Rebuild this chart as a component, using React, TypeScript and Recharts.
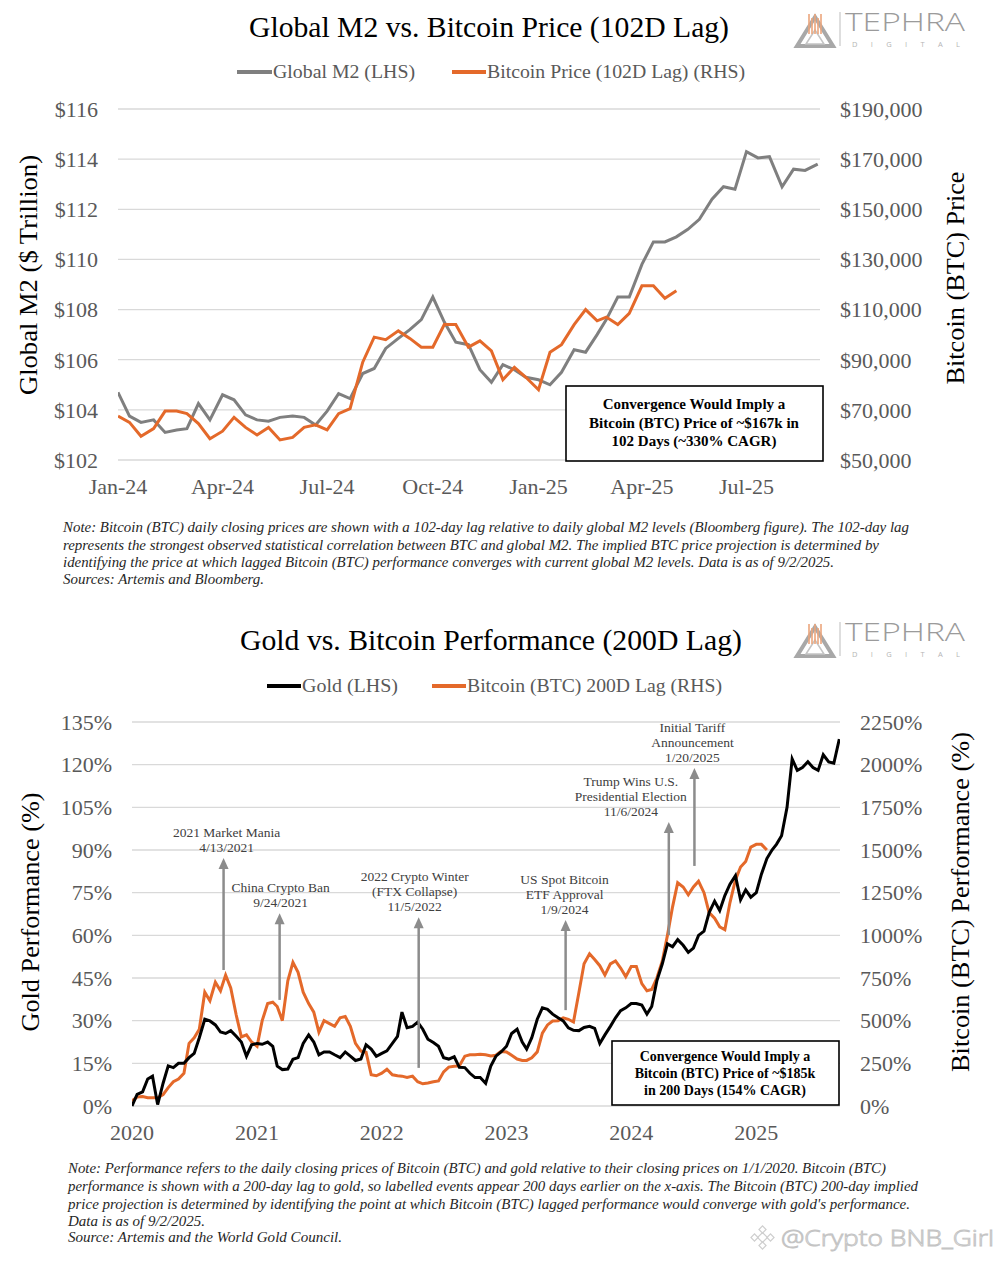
import React from 'react'
import { LineChart, Line, XAxis, YAxis, CartesianGrid, ReferenceLine } from 'recharts'

// ---- panel 1: Global M2 vs Bitcoin (102D lag), sampled on the 1st/11th/21st of each month from Jan 2024
const m2Values = [
  104.7, 103.75, 103.5, 103.6, 103.1, 103.2, 103.25, 104.25, 103.6, 104.6,
  104.4, 103.8, 103.6, 103.55, 103.7, 103.75, 103.7, 103.4, 103.95, 104.65,
  104.45, 105.45, 105.65, 106.45, 106.85, 107.2, 107.6, 108.5, 107.5, 106.7,
  106.6, 105.6, 105.1, 105.8, 105.6, 105.3, 105.2, 105.0, 105.5, 106.4,
  106.3, 107.0, 107.6, 108.5, 108.5, 109.8, 110.7, 110.7, 110.9, 111.2,
  111.6, 112.4, 112.9, 112.8, 114.3, 114.05, 114.1, 112.9, 113.6, 113.55,
  113.8,
]
const btcLagValues = [
  67500, 65000, 59500, 62500, 69500, 69500, 68500, 64500, 58500, 61500,
  67000, 63000, 60000, 63000, 58000, 59000, 63000, 64000, 62000, 68500,
  70500, 89000, 99000, 98000, 101500, 98500, 95000, 95000, 104000, 104000,
  95000, 97500, 93500, 82000, 87000, 83000, 78000, 93000, 96000, 104000,
  110000, 105500, 107000, 104000, 108500, 119500, 119500, 114500, 117500,
]
const m2Ticks = ['2024-01-01', '2024-04-01', '2024-07-01', '2024-10-01', '2025-01-01', '2025-04-01', '2025-07-01']
const m2LeftTicks = [102, 104, 106, 108, 110, 112, 114, 116]
const m2RightTicks = [50000, 70000, 90000, 110000, 130000, 150000, 170000, 190000]

// ---- panel 2: Gold vs Bitcoin (200D lag), 1st and 16th of each month from Jan 2020
const goldPerf = [
  0, 4.1, 5.0, 9.5, 10.5, 0.5, 8, 14.1, 13.5, 15,
  15.0, 17, 18.5, 24, 30.5, 29.9, 28.5, 26, 25.5, 26.5,
  24.5, 22.5, 17.5, 21.5, 22.0, 21.7, 22.5, 21, 14.0, 12.8,
  13.0, 16.4, 17.0, 22, 25.0, 22.5, 18.0, 19, 19.0, 18,
  17.0, 19, 17.5, 16, 16.5, 21.5, 20.0, 17.5, 18.5, 19.4,
  22.0, 24.5, 33.0, 27.5, 28.0, 29.5, 27.0, 23.5, 22.3, 21,
  17.0, 16.5, 17.3, 13.6, 13.5, 11.5, 10.0, 10, 8.0, 14,
  17.5, 19, 21.0, 25.5, 27.0, 22.5, 20.0, 24, 30.5, 34.5,
  34.0, 32.3, 31.0, 29.9, 27.5, 26.6, 26.5, 27.6, 28.0, 27.3,
  22.0, 25, 28.0, 31, 33.5, 34.5, 36.0, 36, 35.5, 32.3,
  35.0, 44, 50.0, 57, 56.0, 58.5, 56.5, 54, 55.5, 60,
  61.5, 68, 72.0, 68.7, 74.0, 78, 81.0, 72.5, 76.0, 73.4,
  75.0, 81.5, 87.0, 90, 92.0, 95, 105.0, 122, 118.0, 119,
  121.0, 119, 118.0, 123.5, 121.0, 120.5, 129.0,
]
const btcLagPerf = [
  30, 53, 55, 48, 48, 48, 67, 108, 142, 158,
  192, 367, 400, 450, 667, 617, 725, 675, 767, 692,
  533, 405, 417, 375, 350, 500, 600, 608, 583, 500,
  733, 842, 783, 667, 600, 550, 433, 500, 483, 467,
  517, 525, 467, 367, 322, 315, 183, 177, 192, 215,
  183, 177, 175, 167, 175, 142, 130, 135, 142, 147,
  200, 228, 233, 235, 292, 300, 300, 303, 300, 293,
  297, 320, 317, 297, 275, 267, 267, 283, 317, 427,
  475, 498, 500, 517, 508, 492, 667, 833, 892, 858,
  822, 767, 833, 850, 808, 758, 817, 817, 717, 675,
  683, 750, 850, 1000, 1167, 1308, 1283, 1238, 1283, 1317,
  1250, 1133, 1100, 1050, 1033, 1192, 1325, 1400, 1433, 1517,
  1533, 1533, 1500,
]
const goldTicks = ['2020-01-01', '2021-01-01', '2022-01-01', '2023-01-01', '2024-01-01', '2025-01-01']
const goldLeftTicks = [0, 15, 30, 45, 60, 75, 90, 105, 120, 135]
const btcRightTicks = [0, 250, 500, 750, 1000, 1250, 1500, 1750, 2000, 2250]

const eventLabels = [
  ['2021 Market Mania', '4/13/2021'],
  ['China Crypto Ban', '9/24/2021'],
  ['2022 Crypto Winter', '(FTX Collapse)', '11/5/2022'],
  ['US Spot Bitcoin', 'ETF Approval', '1/9/2024'],
  ['Trump Wins U.S.', 'Presidential Election', '11/6/2024'],
  ['Initial Tariff', 'Announcement', '1/20/2025'],
]
const eventDates = ['2021-04-13', '2021-09-24', '2022-11-05', '2024-01-09', '2024-11-06', '2025-01-20']
const LAG_DAYS = 200

// arrow extents (gold % units) and label nudges
const arrowSpan = [[47.8, 87.2], [37.3, 67.8], [13.4, 66.4], [33.7, 65.4], [60.1, 99.8], [84.4, 118.8]]
const labelDx = [3, 1, -4, -1, -38, -2]

const SERIF = '"Liberation Serif", "Times New Roman", serif'
const SANS = '"Open Sans", "DejaVu Sans", sans-serif'
const GREY = '#7f7f7f'
const ORANGE = '#e4692a'
const TICK = '#595959'
const ARROW = '#8c8c8c'
const DAY = 86400000
const MON = ['Jan', 'Feb', 'Mar', 'Apr', 'May', 'Jun', 'Jul', 'Aug', 'Sep', 'Oct', 'Nov', 'Dec']

const utc = (s: string) => Date.parse(s + 'T00:00:00Z')

const m2Data = m2Values.map((v, k) => ({
  t: Date.UTC(2024, Math.floor(k / 3), 1 + 10 * (k % 3)),
  m2: v,
  btc: btcLagValues[k],
}))
const goldData = goldPerf.map((v, j) => ({
  t: Date.UTC(2020, Math.floor(j / 2), j % 2 ? 16 : 1),
  gold: v,
  btc: btcLagPerf[j],
}))

const monthLabel = (t: number) => {
  const d = new Date(t)
  return `${MON[d.getUTCMonth()]}-${String(d.getUTCFullYear()).slice(2)}`
}

const tickStyle = { fill: TICK, fontSize: 22, fontFamily: SERIF }

const arrowShape = (lines: string[], dx: number) => (p: any) => {
  const { x1, y1, x2, y2 } = p
  return (
    <g>
      <line x1={x1} y1={y1} x2={x2} y2={y2 + 8} stroke={ARROW} strokeWidth={2.5} />
      <polygon points={`${x2},${y2} ${x2 - 5},${y2 + 11} ${x2 + 5},${y2 + 11}`} fill={ARROW} />
      {lines.map((s, i) => (
        <text
          key={i}
          x={x2 + dx}
          y={y2 - 6 - (lines.length - 1 - i) * 15}
          textAnchor="middle"
          fontSize={13.5}
          fontFamily={SERIF}
          fill="#404040"
        >
          {s}
        </text>
      ))}
    </g>
  )
}

function Logo({ y }: { y: number }) {
  return (
    <g transform={`translate(0, ${y})`}>
      <polygon points="797,46 815,17 833,46" fill="none" stroke="#a8a8a8" strokeWidth={4} strokeLinejoin="miter" />
      <polygon points="806,44 815,30 824,44" fill="#fff" stroke="#c4c4c4" strokeWidth={1.5} />
      {[809, 812, 815, 818, 821].map((x, i) => (
        <line key={x} x1={x} y1={14 + (i % 2) * 4} x2={x} y2={34} stroke="#eba57c" strokeWidth={1.6} />
      ))}
      <line x1={840} y1={12} x2={840} y2={46} stroke="#bdbdbd" strokeWidth={1} />
      <text x={845} y={31} fontSize={25} fontFamily={SANS} fontWeight={300} fill="#9b9b9b" textLength={120} lengthAdjust="spacingAndGlyphs">
        TEPHRA
      </text>
      <text x={852} y={47} fontSize={7.5} fontFamily={SANS} fill="#b5b5b5" textLength={108} lengthAdjust="spacing">
        DIGITAL
      </text>
    </g>
  )
}

function Note({ x, y, lines, widths }: { x: number; y: number[]; lines: string[]; widths: number[] }) {
  return (
    <>
      {lines.map((s, i) => (
        <text
          key={i}
          x={x}
          y={y[i]}
          fontSize={14}
          fontStyle="italic"
          fontFamily={SERIF}
          fill="#262626"
          textLength={widths[i]}
          lengthAdjust="spacingAndGlyphs"
        >
          {s}
        </text>
      ))}
    </>
  )
}

function Overlay() {
  return (
    <svg
      width={1001}
      height={1263}
      style={{ position: 'absolute', left: 0, top: 0, pointerEvents: 'none' }}
    >
      {/* panel 1 header */}
      <text x={249} y={37} fontSize={29} fontFamily={SERIF} fill="#000" textLength={480} lengthAdjust="spacingAndGlyphs">
        Global M2 vs. Bitcoin Price (102D Lag)
      </text>
      <Logo y={0} />
      <line x1={237} y1={72} x2={272} y2={72} stroke={GREY} strokeWidth={4} />
      <text x={273} y={78} fontSize={19} fontFamily={SERIF} fill={TICK} textLength={142} lengthAdjust="spacingAndGlyphs">
        Global M2 (LHS)
      </text>
      <line x1={452} y1={72} x2={486} y2={72} stroke={ORANGE} strokeWidth={4} />
      <text x={487} y={78} fontSize={19} fontFamily={SERIF} fill={TICK} textLength={258} lengthAdjust="spacingAndGlyphs">
        Bitcoin Price (102D Lag) (RHS)
      </text>
      <text
        x={28}
        y={275}
        fontSize={25}
        fontFamily={SERIF}
        fill="#000"
        textAnchor="middle"
        dominantBaseline="central"
        transform="rotate(-90 28 275)"
        textLength={240}
        lengthAdjust="spacingAndGlyphs"
      >
        Global M2 ($ Trillion)
      </text>
      <text
        x={955}
        y={278}
        fontSize={25}
        fontFamily={SERIF}
        fill="#000"
        textAnchor="middle"
        dominantBaseline="central"
        transform="rotate(-90 955 278)"
        textLength={213}
        lengthAdjust="spacingAndGlyphs"
      >
        Bitcoin (BTC) Price
      </text>
      <rect x={566} y={386} width={257} height={75} fill="#fff" stroke="#000" strokeWidth={1.6} />
      {['Convergence Would Imply a', 'Bitcoin (BTC) Price of ~$167k in', '102 Days (~330% CAGR)'].map((s, i) => (
        <text key={i} x={694} y={409 + i * 18.5} fontSize={15} fontWeight="bold" fontFamily={SERIF} fill="#000" textAnchor="middle">
          {s}
        </text>
      ))}
      <Note
        x={63}
        y={[532, 550, 567, 584]}
        widths={[846, 816, 771, 201]}
        lines={[
          'Note: Bitcoin (BTC) daily closing prices are shown with a 102-day lag relative to daily global M2 levels (Bloomberg figure). The 102-day lag',
          'represents the strongest observed statistical correlation between BTC and global M2. The implied BTC price projection is determined by',
          'identifying the price at which lagged Bitcoin (BTC) performance converges with current global M2 levels. Data is as of 9/2/2025.',
          'Sources: Artemis and Bloomberg.',
        ]}
      />

      {/* panel 2 header */}
      <text x={240} y={650} fontSize={29} fontFamily={SERIF} fill="#000" textLength={502} lengthAdjust="spacingAndGlyphs">
        Gold vs. Bitcoin Performance (200D Lag)
      </text>
      <Logo y={610} />
      <line x1={267} y1={686} x2={301} y2={686} stroke="#000" strokeWidth={4} />
      <text x={302} y={692} fontSize={19} fontFamily={SERIF} fill={TICK} textLength={96} lengthAdjust="spacingAndGlyphs">
        Gold (LHS)
      </text>
      <line x1={432} y1={686} x2={466} y2={686} stroke={ORANGE} strokeWidth={4} />
      <text x={467} y={692} fontSize={19} fontFamily={SERIF} fill={TICK} textLength={255} lengthAdjust="spacingAndGlyphs">
        Bitcoin (BTC) 200D Lag (RHS)
      </text>
      <text
        x={30}
        y={912}
        fontSize={25}
        fontFamily={SERIF}
        fill="#000"
        textAnchor="middle"
        dominantBaseline="central"
        transform="rotate(-90 30 912)"
        textLength={239}
        lengthAdjust="spacingAndGlyphs"
      >
        Gold Performance (%)
      </text>
      <text
        x={960}
        y={902}
        fontSize={25}
        fontFamily={SERIF}
        fill="#000"
        textAnchor="middle"
        dominantBaseline="central"
        transform="rotate(-90 960 902)"
        textLength={340}
        lengthAdjust="spacingAndGlyphs"
      >
        Bitcoin (BTC) Performance (%)
      </text>
      <rect x={612} y={1041} width={227} height={64} fill="#fff" stroke="#000" strokeWidth={1.6} />
      {['Convergence Would Imply a', 'Bitcoin (BTC) Price of ~$185k', 'in 200 Days (154% CAGR)'].map((s, i) => (
        <text key={i} x={725} y={1061 + i * 17} fontSize={14} fontWeight="bold" fontFamily={SERIF} fill="#000" textAnchor="middle">
          {s}
        </text>
      ))}
      <Note
        x={68}
        y={[1173, 1191, 1209, 1226, 1242]}
        widths={[818, 850, 842, 137, 274]}
        lines={[
          'Note: Performance refers to the daily closing prices of Bitcoin (BTC) and gold relative to their closing prices on 1/1/2020. Bitcoin (BTC)',
          'performance is shown with a 200-day lag to gold, so labelled events appear 200 days earlier on the x-axis. The Bitcoin (BTC) 200-day implied',
          "price projection is determined by identifying the point at which Bitcoin (BTC) lagged performance would converge with gold's performance.",
          'Data is as of 9/2/2025.',
          'Source: Artemis and the World Gold Council.',
        ]}
      />

      {/* watermark */}
      <g fill="none" stroke="#cfcfcf" strokeWidth={1.2}>
        <rect x={759} y={1234} width={7} height={7} transform="rotate(45 762.5 1237.5)" />
        <rect x={752} y={1235} width={5} height={5} transform="rotate(45 754.5 1237.5)" />
        <rect x={768} y={1235} width={5} height={5} transform="rotate(45 770.5 1237.5)" />
        <rect x={760} y={1227} width={5} height={5} transform="rotate(45 762.5 1229.5)" />
        <rect x={760} y={1243} width={5} height={5} transform="rotate(45 762.5 1245.5)" />
      </g>
      <text
        x={781}
        y={1246}
        fontSize={22}
        fontFamily={SANS}
        fontWeight={300}
        fill="#fff"
        stroke="#c4c4c4"
        strokeWidth={0.9}
        textLength={213}
        lengthAdjust="spacingAndGlyphs"
      >
        @Crypto BNB_Girl
      </text>
    </svg>
  )
}

function M2Chart() {
  return (
    <div style={{ position: 'absolute', left: 0, top: 0 }}>
      <LineChart width={1001} height={500} data={m2Data} margin={{ top: 109, right: 0, bottom: 0, left: 0 }}>
        <CartesianGrid vertical={false} stroke="#d9d9d9" strokeWidth={1.3} yAxisId="left" />
        <XAxis
          dataKey="t"
          type="number"
          domain={[utc('2024-01-01'), utc('2025-09-03')]}
          ticks={m2Ticks.map(utc)}
          tickFormatter={monthLabel}
          axisLine={false}
          tickLine={false}
          tickSize={0}
          tickMargin={18}
          height={40}
          tick={tickStyle}
          allowDataOverflow
        />
        <YAxis
          yAxisId="left"
          orientation="left"
          domain={[102, 116]}
          ticks={m2LeftTicks}
          tickFormatter={(v: number) => `$${v}`}
          width={118}
          axisLine={false}
          tickLine={false}
          tickSize={0}
          tickMargin={20}
          tick={tickStyle}
        />
        <YAxis
          yAxisId="right"
          orientation="right"
          domain={[50000, 190000]}
          ticks={m2RightTicks}
          tickFormatter={(v: number) => `$${v.toLocaleString('en-US')}`}
          width={181}
          axisLine={false}
          tickLine={false}
          tickSize={0}
          tickMargin={20}
          tick={{ ...tickStyle, textAnchor: 'start' }}
        />
        <Line yAxisId="left" dataKey="m2" stroke={GREY} strokeWidth={3} dot={false} type="linear" isAnimationActive={false} />
        <Line yAxisId="right" dataKey="btc" stroke={ORANGE} strokeWidth={3} dot={false} type="linear" isAnimationActive={false} />
      </LineChart>
    </div>
  )
}

function GoldChart() {
  return (
    <div style={{ position: 'absolute', left: 0, top: 600 }}>
      <LineChart width={1001} height={560} data={goldData} margin={{ top: 122, right: 0, bottom: 0, left: 0 }}>
        <CartesianGrid vertical={false} stroke="#d9d9d9" strokeWidth={1.3} yAxisId="left" />
        <XAxis
          dataKey="t"
          type="number"
          domain={[utc('2020-01-01'), utc('2025-09-03')]}
          ticks={goldTicks.map(utc)}
          tickFormatter={(t: number) => String(new Date(t).getUTCFullYear())}
          axisLine={false}
          tickLine={false}
          tickSize={0}
          tickMargin={18}
          height={54}
          tick={tickStyle}
          allowDataOverflow
        />
        <YAxis
          yAxisId="left"
          orientation="left"
          domain={[0, 135]}
          ticks={goldLeftTicks}
          tickFormatter={(v: number) => `${v}%`}
          width={132}
          axisLine={false}
          tickLine={false}
          tickSize={0}
          tickMargin={20}
          tick={tickStyle}
        />
        <YAxis
          yAxisId="right"
          orientation="right"
          domain={[0, 2250]}
          ticks={btcRightTicks}
          tickFormatter={(v: number) => `${v}%`}
          width={161}
          axisLine={false}
          tickLine={false}
          tickSize={0}
          tickMargin={20}
          tick={{ ...tickStyle, textAnchor: 'start' }}
        />
        <Line yAxisId="right" dataKey="btc" stroke={ORANGE} strokeWidth={3} dot={false} type="linear" isAnimationActive={false} />
        <Line yAxisId="left" dataKey="gold" stroke="#000" strokeWidth={3} dot={false} type="linear" isAnimationActive={false} />
        {eventDates.map((d, i) => {
          const x = utc(d) - LAG_DAYS * DAY
          return (
            <ReferenceLine
              key={d}
              yAxisId="left"
              segment={[
                { x, y: arrowSpan[i][0] },
                { x, y: arrowSpan[i][1] },
              ]}
              shape={arrowShape(eventLabels[i], labelDx[i])}
            />
          )
        })}
      </LineChart>
    </div>
  )
}

export default function App() {
  return (
    <div style={{ position: 'absolute', left: 0, top: 0, width: 1001, height: 1263, background: '#fff', overflow: 'hidden' }}>
      <M2Chart />
      <GoldChart />
      <Overlay />
    </div>
  )
}
